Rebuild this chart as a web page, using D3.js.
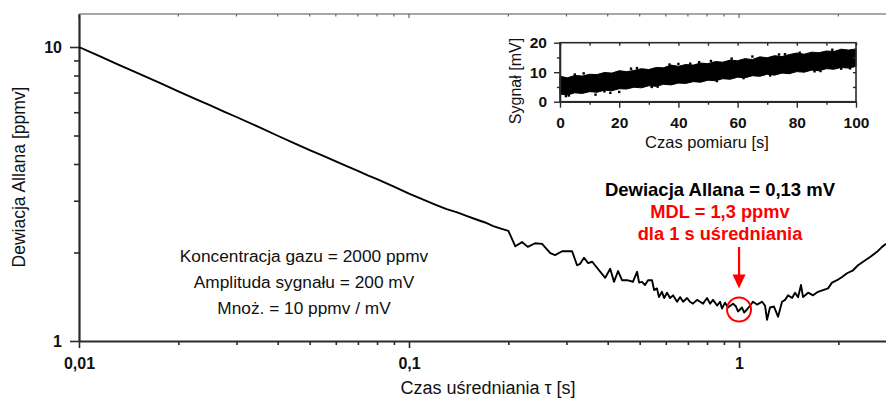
<!DOCTYPE html>
<html>
<head>
<meta charset="utf-8">
<script src="https://cdn.jsdelivr.net/npm/d3@7"></script>
<style>
  body { margin: 0; background: #fff; }
  svg { display: block; font-family: Arial, "Liberation Sans", sans-serif; }
</style>
</head>
<body>
<svg id="chart" width="886" height="398"></svg>
<script>
// Allan deviation curve (tau in s, sigma in ppmv)
const tau = [
  0.01, 0.0115, 0.013, 0.015, 0.0175, 0.02, 0.0225, 0.025, 0.0275, 0.03,
  0.035, 0.04, 0.045, 0.05, 0.055, 0.06, 0.065, 0.07, 0.075, 0.08,
  0.09, 0.1, 0.11, 0.12, 0.13, 0.14, 0.15, 0.16, 0.17, 0.18, 0.19, 0.2,
  0.210, 0.220, 0.229, 0.241, 0.253, 0.268, 0.277, 0.291, 0.312, 0.323,
  0.330, 0.339, 0.349, 0.359, 0.393, 0.407, 0.418, 0.430, 0.442, 0.458,
  0.477, 0.491, 0.498, 0.508, 0.519, 0.530, 0.545, 0.553, 0.564, 0.572,
  0.584, 0.593, 0.605, 0.618, 0.631, 0.649, 0.663, 0.677, 0.696, 0.710,
  0.725, 0.746, 0.762, 0.778, 0.800, 0.817, 0.834, 0.858, 0.876, 0.888,
  0.907, 0.926, 0.959, 0.979, 0.993, 1.021, 1.036, 1.057, 1.080, 1.102,
  1.134, 1.174, 1.199, 1.216, 1.241, 1.276, 1.313, 1.350, 1.379, 1.408,
  1.448, 1.478, 1.510, 1.541, 1.563, 1.619, 1.676, 1.735, 1.797, 1.861,
  1.913, 1.982, 2.052, 2.125, 2.216, 2.294, 2.376, 2.495, 2.619, 2.713, 2.789
];
const sigma = [
  10, 9.33, 8.77, 8.16, 7.56, 7.07, 6.66, 6.33, 6.03, 5.78,
  5.35, 4.99, 4.70, 4.46, 4.26, 4.08, 3.93, 3.79, 3.66, 3.55,
  3.35, 3.17, 3.03, 2.91, 2.81, 2.74, 2.66, 2.59, 2.53, 2.46, 2.41, 2.37,
  2.10, 2.17, 2.09, 2.15, 2.14, 1.99, 1.96, 2.02, 2.02, 1.81,
  1.83, 1.92, 1.84, 1.86, 1.64, 1.76, 1.59, 1.73, 1.61, 1.61,
  1.59, 1.72, 1.58, 1.59, 1.55, 1.61, 1.61, 1.49, 1.51, 1.41,
  1.47, 1.40, 1.46, 1.40, 1.43, 1.36, 1.41, 1.36, 1.40, 1.36,
  1.34, 1.38, 1.36, 1.34, 1.40, 1.34, 1.38, 1.32, 1.36, 1.29,
  1.35, 1.30, 1.34, 1.31, 1.26, 1.30, 1.25, 1.28, 1.32, 1.36,
  1.33, 1.36, 1.32, 1.18, 1.30, 1.31, 1.21, 1.36, 1.38, 1.43,
  1.40, 1.46, 1.41, 1.55, 1.41, 1.46, 1.43, 1.47, 1.49, 1.51,
  1.58, 1.61, 1.65, 1.70, 1.74, 1.81, 1.86, 1.93, 2.01, 2.09, 2.14
];

const xMajor = [0.01, 0.1, 1];
const xMajorLabels = ["0,01", "0,1", "1"];
const yMajor = [1, 10];
const yMajorLabels = ["1", "10"];

// inset: raw signal band (edges of the dense point cloud) + stray points
const insetT = [0, 2.5, 5, 7.5, 10, 12.5, 15, 17.5, 20, 22.5, 25, 27.5, 30, 32.5, 35, 37.5, 40,
  42.5, 45, 47.5, 50, 52.5, 55, 57.5, 60, 62.5, 65, 67.5, 70, 72.5, 75, 77.5, 80,
  82.5, 85, 87.5, 90, 92.5, 95, 97.5, 100];
const insetHi = [8.6, 8.1, 8.9, 8.7, 9.3, 9.2, 9.9, 9.7, 10.5, 10.2, 10.6, 11.2, 10.9, 11.6, 11.5, 12.4, 12.0,
  12.6, 12.4, 13.1, 12.9, 13.6, 13.4, 14.1, 13.9, 14.6, 14.3, 15.2, 14.9, 15.6, 15.3, 16.0, 16.5,
  16.1, 16.8, 16.6, 17.2, 17.0, 17.8, 17.5, 17.9];
const insetLo = [2.6, 2.3, 3.0, 2.8, 3.4, 3.2, 3.9, 3.7, 4.4, 4.3, 4.9, 4.7, 5.4, 5.2, 5.9, 5.7, 6.3,
  6.2, 6.8, 6.6, 7.3, 7.1, 7.8, 7.6, 8.3, 8.1, 8.8, 8.6, 9.3, 9.0, 9.7, 9.5, 10.2,
  10.0, 10.7, 10.5, 11.2, 11.0, 11.6, 11.4, 12.1];
const strayT = [2, 5, 12, 15, 17, 20, 37, 40, 47, 65, 81, 98, 99,
  8, 26, 31, 44, 53, 58, 71, 76, 86, 92, 95, 3, 24, 33, 51, 62, 74, 88];
const strayV = [1.9, 9.2, 2.4, 3.5, 3.0, 3.3, 12.6, 12.8, 13.4, 15.3, 16.6, 11.3, 12.0,
  9.6, 11.4, 5.0, 12.9, 7.0, 14.6, 8.9, 16.1, 10.3, 17.6, 11.2, 2.1, 11.2, 5.1, 13.8, 8.0, 16.0, 10.4];
const insetXTicks = [0, 20, 40, 60, 80, 100];
const insetYTicks = [0, 10, 20];

const notes = ["Koncentracja gazu = 2000 ppmv", "Amplituda sygnału = 200 mV", "Mnoż. = 10 ppmv / mV"];
const allanNote = "Dewiacja Allana = 0,13 mV";
const mdlNotes = ["MDL = 1,3 ppmv", "dla 1 s uśredniania"];

const svg = d3.select("#chart");

const x = d3.scaleLog().domain([0.01, 2.8]).range([79, 886.6]);
const y = d3.scaleLog().domain([1, 12.95]).range([341, 14]);
const xMinor = x.ticks().filter(d => !xMajor.some(m => Math.abs(m - d) < 1e-9));
const yMinor = y.ticks().filter(d => d < 10 && d > 1);

svg.append("defs").append("clipPath").attr("id", "plotClip")
  .append("rect").attr("x", 79).attr("y", 14).attr("width", 807).attr("height", 327);

// top frame line with small inward ticks
const topAxis = svg.append("g").attr("transform", "translate(0,14)");
topAxis.append("line").attr("x1", 79).attr("x2", 886).attr("stroke", "#8a8a8a").attr("stroke-width", 1.3);
topAxis.selectAll("line.t").data(x.ticks()).join("line").attr("class", "t")
  .attr("x1", d => x(d)).attr("x2", d => x(d))
  .attr("y1", 0).attr("y2", d => xMajor.some(m => Math.abs(m - d) < 1e-9) ? 4 : 2.5)
  .attr("stroke", "#666").attr("stroke-width", 1.2);

// left axis
svg.append("g").attr("transform", "translate(79,0)")
  .call(d3.axisLeft(y).tickValues(yMajor).tickSize(9).tickSizeOuter(0).tickPadding(8)
    .tickFormat((d, i) => yMajorLabels[i]));
svg.append("g").attr("transform", "translate(79,0)")
  .call(d3.axisLeft(y).tickValues(yMinor).tickSize(5).tickSizeOuter(0).tickFormat(""))
  .call(g => g.select(".domain").remove());

// bottom axis
svg.append("g").attr("transform", "translate(0,341)")
  .call(d3.axisBottom(x).tickValues(xMajor).tickSize(7).tickSizeOuter(0).tickPadding(10)
    .tickFormat((d, i) => xMajorLabels[i]));
svg.append("g").attr("transform", "translate(0,341)")
  .call(d3.axisBottom(x).tickValues(xMinor).tickSize(4).tickSizeOuter(0).tickFormat(""))
  .call(g => g.select(".domain").remove());

svg.selectAll(".domain").attr("stroke", "#2a2a2a").attr("stroke-width", 2.2);
svg.selectAll(".tick line").attr("stroke", "#2a2a2a").attr("stroke-width", 1.6);
svg.selectAll(".tick text").attr("fill", "#111").style("font-size", "16px").style("font-weight", "bold")
  .style("font-family", "Arial, 'Liberation Sans', sans-serif");

// axis titles
svg.append("text").attr("transform", "translate(25,177) rotate(-90)")
  .attr("text-anchor", "middle").style("font-size", "17.5px").attr("fill", "#111")
  .text("Dewiacja Allana [ppmv]");
svg.append("text").attr("x", 488).attr("y", 394)
  .attr("text-anchor", "middle").style("font-size", "18px").attr("fill", "#111")
  .text("Czas uśredniania τ [s]");

// curve
const line = d3.line().x(d => x(d[0])).y(d => y(d[1]));
svg.append("path").datum(d3.zip(tau, sigma))
  .attr("clip-path", "url(#plotClip)")
  .attr("d", line).attr("fill", "none").attr("stroke", "#000")
  .attr("stroke-width", 1.9).attr("stroke-linejoin", "round");

// notes
svg.append("g").selectAll("text").data(notes).join("text")
  .attr("x", 304).attr("y", (d, i) => 262 + i * 25.8)
  .attr("text-anchor", "middle").style("font-size", "17.3px").attr("fill", "#111")
  .text(d => d);

svg.append("text").attr("x", 720).attr("y", 196).attr("text-anchor", "middle")
  .style("font-size", "18.5px").style("font-weight", "bold").attr("fill", "#000").text(allanNote);
svg.append("g").selectAll("text").data(mdlNotes).join("text")
  .attr("x", 720).attr("y", (d, i) => 218 + i * 22)
  .attr("text-anchor", "middle").style("font-size", "18.3px").style("font-weight", "bold")
  .attr("fill", "#ff0000").text(d => d);

// arrow + circle at tau = 1 s
const cx = x(1), cy = y(1.28);
svg.append("line").attr("x1", cx).attr("x2", cx).attr("y1", 247).attr("y2", cy - 34)
  .attr("stroke", "#ff0000").attr("stroke-width", 2.2);
svg.append("path")
  .attr("d", `M${cx - 6.5},${cy - 35}L${cx + 6.5},${cy - 35}L${cx},${cy - 21}Z`)
  .attr("fill", "#ff0000");
svg.append("circle").attr("cx", cx).attr("cy", cy).attr("r", 12)
  .attr("fill", "none").attr("stroke", "#ff0000").attr("stroke-width", 2);

// inset
const ix = d3.scaleLinear().domain([0, 100]).range([560, 856]);
const iy = d3.scaleLinear().domain([0, 20]).range([101.7, 42.7]);
const inset = svg.append("g");

inset.append("path").datum(d3.range(insetT.length))
  .attr("d", d3.area().x(i => ix(insetT[i])).y0(i => iy(insetLo[i])).y1(i => iy(insetHi[i])))
  .attr("fill", "#000").attr("stroke", "#000").attr("stroke-width", 1);
inset.selectAll("rect.p").data(d3.zip(strayT, strayV)).join("rect").attr("class", "p")
  .attr("x", d => ix(d[0]) - 1.2).attr("y", d => iy(d[1]) - 1.2)
  .attr("width", 2.4).attr("height", 2.4).attr("fill", "#000");

inset.append("g").attr("transform", "translate(0,101.7)")
  .call(d3.axisBottom(ix).tickValues(insetXTicks).tickSize(6).tickSizeOuter(0).tickPadding(9));
inset.append("g").attr("transform", "translate(0,101.7)")
  .call(d3.axisBottom(ix).tickValues([10, 30, 50, 70, 90]).tickSize(3).tickSizeOuter(0).tickFormat(""))
  .call(g => g.select(".domain").remove());
inset.append("g").attr("transform", "translate(560,0)")
  .call(d3.axisLeft(iy).tickValues(insetYTicks).tickSize(6).tickSizeOuter(0).tickPadding(7));
inset.append("g").attr("transform", "translate(560,0)")
  .call(d3.axisLeft(iy).tickValues([5, 15]).tickSize(3).tickSizeOuter(0).tickFormat(""))
  .call(g => g.select(".domain").remove());
// mirrored inward ticks on top and right
inset.append("g").attr("transform", "translate(0,42.7)")
  .call(d3.axisBottom(ix).tickValues(insetXTicks.concat([10, 30, 50, 70, 90])).tickSize(3).tickSizeOuter(0).tickFormat(""))
  .call(g => g.select(".domain").remove());
inset.append("g").attr("transform", "translate(856,0)")
  .call(d3.axisRight(iy).tickValues([5, 10, 15]).tickSize(-3).tickSizeOuter(0).tickFormat(""))
  .call(g => g.select(".domain").remove());

inset.append("rect").attr("x", 560).attr("y", 42.7).attr("width", 296).attr("height", 59)
  .attr("fill", "none").attr("stroke", "#2a2a2a").attr("stroke-width", 1.6);
inset.selectAll(".domain").attr("stroke", "#2a2a2a").attr("stroke-width", 1.6);
inset.selectAll(".tick line").attr("stroke", "#2a2a2a").attr("stroke-width", 1.4);
inset.selectAll(".tick text").attr("fill", "#111").style("font-size", "15.5px").style("font-weight", "bold")
  .style("font-family", "Arial, 'Liberation Sans', sans-serif");

inset.append("text").attr("transform", "translate(521,81) rotate(-90)")
  .attr("text-anchor", "middle").style("font-size", "16px").attr("fill", "#111").text("Sygnał [mV]");
inset.append("text").attr("x", 707).attr("y", 148)
  .attr("text-anchor", "middle").style("font-size", "16.5px").attr("fill", "#111").text("Czas pomiaru [s]");
</script>
</body>
</html>
